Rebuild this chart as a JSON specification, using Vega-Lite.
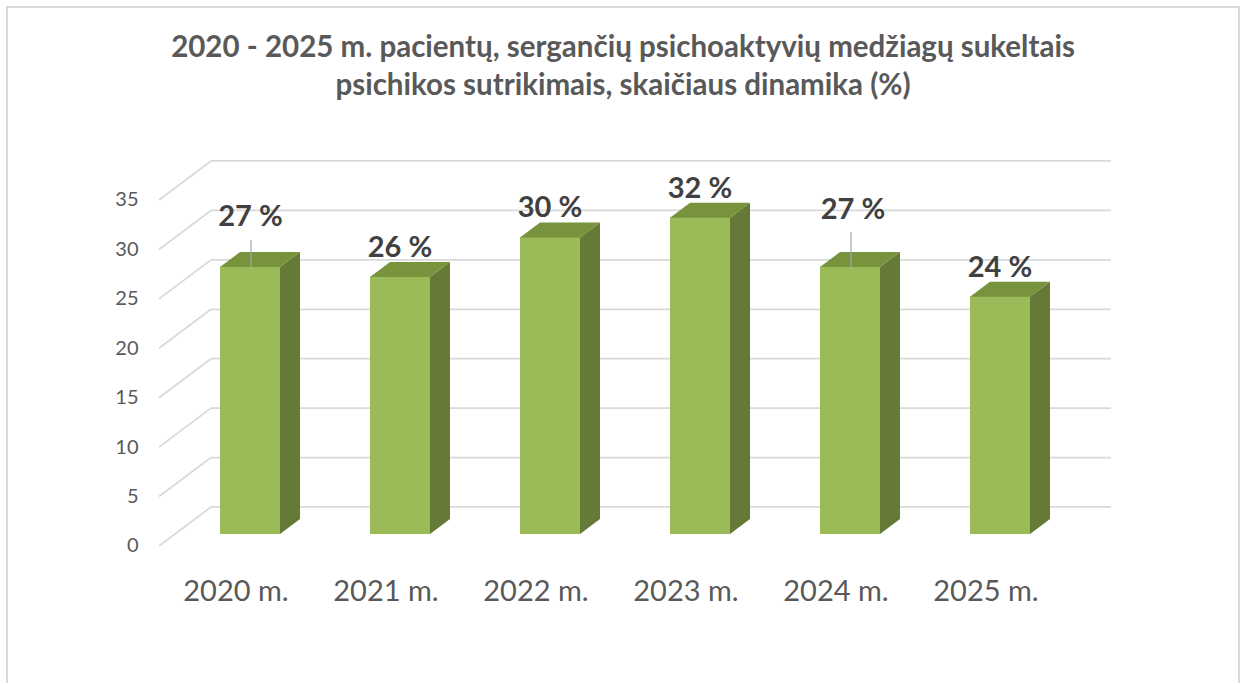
{
  "$schema": "https://vega.github.io/schema/vega-lite/v6.json",
  "width": 1232,
  "height": 677,
  "autosize": "none",
  "padding": {"left": 7, "top": 7, "right": 1, "bottom": -1},
  "background": "white",
  "config": {"view": {"stroke": "#D9D9D9", "strokeWidth": 2}, "font": "Lato"},
  "title": {
    "text": ["2020 - 2025 m. pacientų, sergančių psichoaktyvių medžiagų sukeltais", "psichikos sutrikimais, skaičiaus dinamika (%)"],
    "font": "Lato",
    "fontSize": 29.5,
    "fontWeight": "bold",
    "color": "#595959",
    "lineHeight": 38,
    "anchor": "middle",
    "frame": "group",
    "baseline": "alphabetic",
    "offset": 0,
    "dy": 117
  },
  "resolve": {"scale": {"x": "independent"}},
  "layer": [
    {
      "data": {"values": [{"t": 0}, {"t": 5}, {"t": 10}, {"t": 15}, {"t": 20}, {"t": 25}, {"t": 30}, {"t": 35}]},
      "encoding": {
        "y": {
          "field": "t", "type": "quantitative",
          "scale": {"domain": [-13.96, 54.523], "nice": false, "zero": false},
          "axis": {"title": null, "orient": "left", "offset": -152, "values": [0, 5, 10, 15, 20, 25, 30, 35], "domain": false, "ticks": false, "tickSize": 0, "grid": false, "labelFont": "Lato", "labelFontSize": 20, "labelColor": "#595959", "labelPadding": 21}
        }
      },
      "layer": [
        {
          "mark": {"type": "rule", "color": "#D9D9D9", "strokeWidth": 1.75, "xOffset": 52, "x2Offset": 52, "yOffset": -39},
          "encoding": {
            "x": {"datum": 0, "type": "quantitative", "scale": {"domain": [-0.168889, 1.2], "nice": false, "zero": false}, "axis": null},
            "x2": {"datum": 1}
          }
        },
        {
          "mark": {"type": "rule", "color": "#D9D9D9", "strokeWidth": 1.75, "x2Offset": 52, "y2Offset": -39},
          "encoding": {
            "x": {"datum": 0, "type": "quantitative", "scale": {"domain": [-0.168889, 1.2], "nice": false, "zero": false}, "axis": null},
            "x2": {"datum": 0},
            "y2": {"field": "t"}
          }
        }
      ]
    },
    {
      "data": {"values": [
        {"year": "2020 m.", "value": 27, "label": "27 %"},
        {"year": "2021 m.", "value": 26, "label": "26 %"},
        {"year": "2022 m.", "value": 30, "label": "30 %"},
        {"year": "2023 m.", "value": 32, "label": "32 %"},
        {"year": "2024 m.", "value": 27, "label": "27 %"},
        {"year": "2025 m.", "value": 24, "label": "24 %"}
      ]},
      "encoding": {
        "x": {
          "field": "year", "type": "nominal", "sort": null,
          "scale": {"domain": ["2020 m.", "2021 m.", "2022 m.", "2023 m.", "2024 m.", "2025 m."], "range": [152, 1052], "paddingInner": 0.6, "paddingOuter": 0.3, "round": false},
          "axis": {"title": null, "orient": "bottom", "offset": -138, "domain": false, "ticks": false, "tickSize": 0, "grid": false, "labelAngle": 0, "labelFont": "Lato", "labelFontSize": 29, "labelColor": "#595959", "labelPadding": 54, "labelBaseline": "alphabetic", "labelOffset": 2}
        },
        "y": {
          "field": "value", "type": "quantitative",
          "scale": {"domain": [-13.96, 54.523], "nice": false, "zero": false},
          "axis": {"title": null, "orient": "left", "offset": -152, "values": [0, 5, 10, 15, 20, 25, 30, 35], "domain": false, "ticks": false, "tickSize": 0, "grid": false, "labelFont": "Lato", "labelFontSize": 20, "labelColor": "#595959", "labelPadding": 21}
        }
      },
      "layer": [
        {
          "mark": {"type": "rule", "color": "#647A36", "strokeWidth": 20, "strokeCap": "butt", "xOffset": 56, "yOffset": -12, "y2Offset": -27},
          "encoding": {"y2": {"datum": 0}}
        },
        {
          "mark": {"type": "point", "shape": "M46,-12L66,-27L66,-10L46,-10Z", "size": 4, "filled": true, "opacity": 1, "color": "#647A36", "strokeWidth": 0}
        },
        {
          "mark": {"type": "point", "shape": "M46,-12L66,-27L66,-30L46,-30Z", "size": 4, "filled": true, "opacity": 1, "color": "#647A36", "strokeWidth": 0},
          "encoding": {"y": {"datum": 0}}
        },
        {
          "mark": {"type": "point", "shape": "M-14,-12L6,-27L66,-27L46,-12L46,-10L-14,-10Z", "size": 4, "filled": true, "opacity": 1, "color": "#77933C", "strokeWidth": 0}
        },
        {
          "mark": {"type": "bar", "color": "#9BBB59", "xOffset": 16, "yOffset": -12, "y2Offset": -12},
          "encoding": {"y2": {"datum": 0}}
        },
        {
          "transform": [{"filter": {"field": "year", "equal": "2020 m."}}],
          "mark": {"type": "rule", "color": "#A6A6A6", "strokeWidth": 1.2, "xOffset": 17, "yOffset": -12, "y2Offset": -39},
          "encoding": {"y2": {"field": "value"}}
        },
        {
          "transform": [{"filter": {"field": "year", "equal": "2024 m."}}],
          "mark": {"type": "rule", "color": "#A6A6A6", "strokeWidth": 1.2, "xOffset": 17, "yOffset": -12, "y2Offset": -47},
          "encoding": {"y2": {"field": "value"}}
        },
        {
          "transform": [{"filter": {"field": "year", "oneOf": ["2021 m.", "2022 m.", "2023 m.", "2025 m."]}}],
          "mark": {"type": "text", "font": "Lato", "fontSize": 29, "fontWeight": "bold", "color": "#404040", "dx": 16, "dy": -41, "baseline": "middle", "align": "center"},
          "encoding": {"text": {"field": "label"}}
        },
        {
          "transform": [{"filter": {"field": "year", "equal": "2020 m."}}],
          "mark": {"type": "text", "font": "Lato", "fontSize": 29, "fontWeight": "bold", "color": "#404040", "dx": 16.5, "dy": -62, "baseline": "middle", "align": "center"},
          "encoding": {"text": {"field": "label"}}
        },
        {
          "transform": [{"filter": {"field": "year", "equal": "2024 m."}}],
          "mark": {"type": "text", "font": "Lato", "fontSize": 29, "fontWeight": "bold", "color": "#404040", "dx": 19, "dy": -69, "baseline": "middle", "align": "center"},
          "encoding": {"text": {"field": "label"}}
        }
      ]
    }
  ]
}
